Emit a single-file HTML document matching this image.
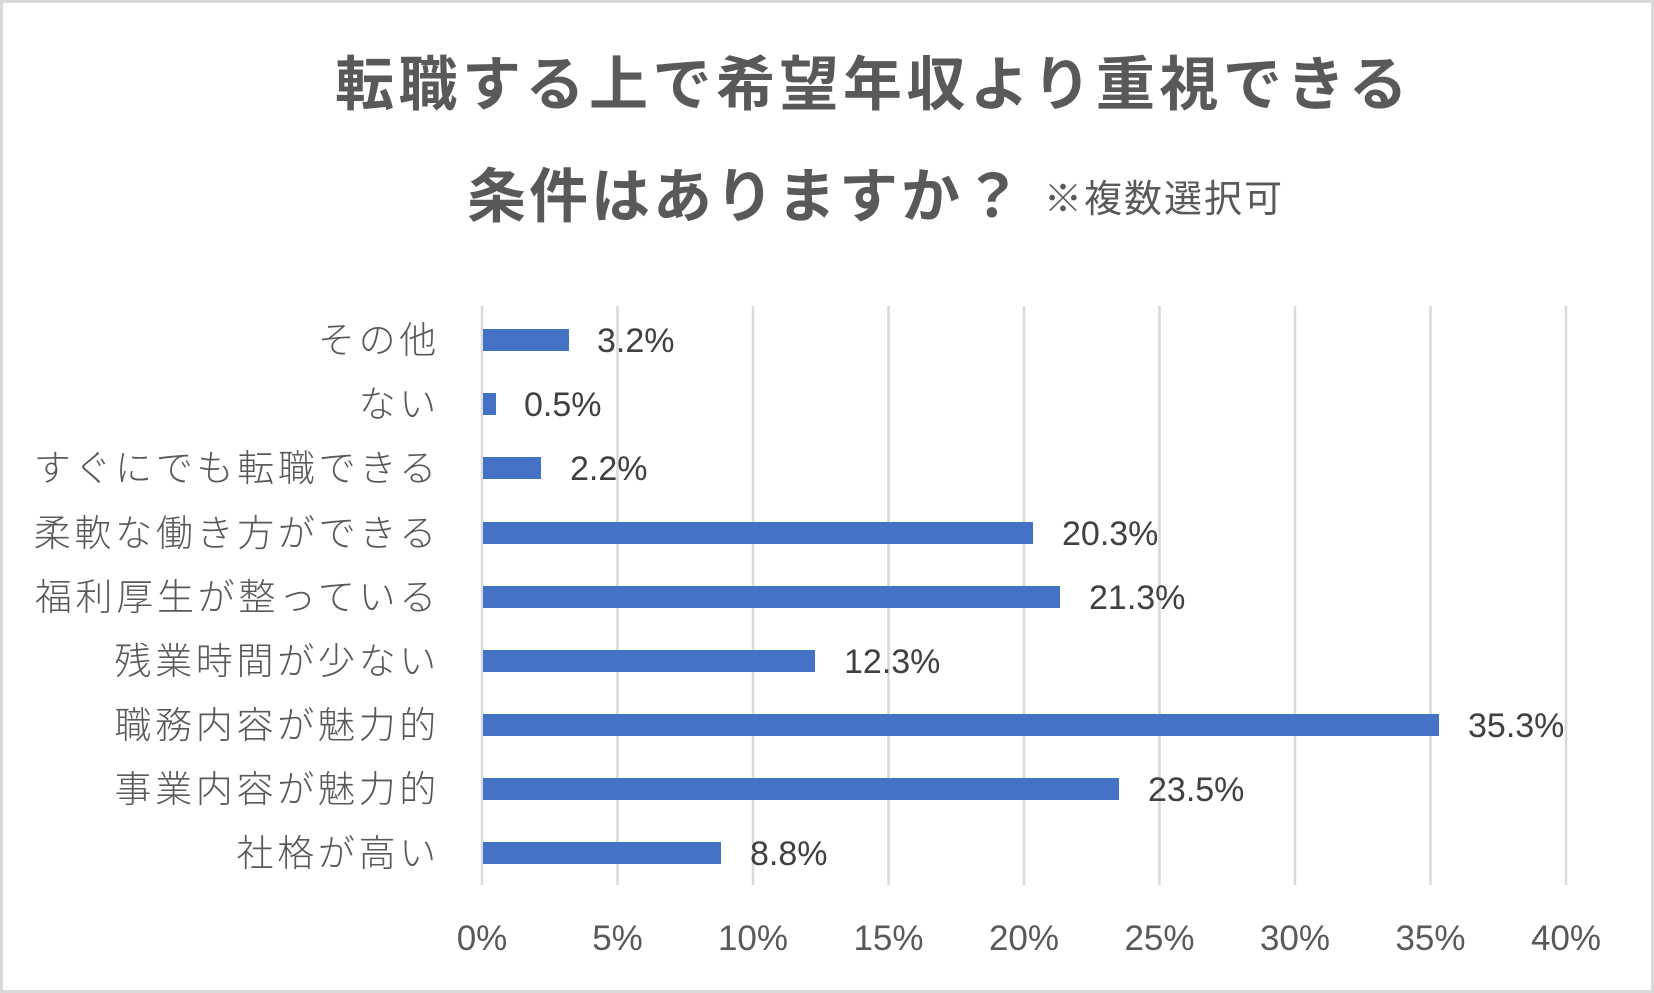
<!DOCTYPE html>
<html><head><meta charset="utf-8"><style>
html,body{margin:0;padding:0;background:#fff;}
svg{display:block;}
</style></head><body>
<svg width="1654" height="993" viewBox="0 0 1654 993" xmlns="http://www.w3.org/2000/svg">
<rect x="1.5" y="1.5" width="1651" height="990" fill="#fff" stroke="#d9d9d9" stroke-width="3"/>
<g font-family="'Liberation Sans','Noto Sans CJK JP',sans-serif" fill="#595959">
<text x="335" y="105" font-size="59" font-weight="bold" letter-spacing="4.5">転職する上で希望年収より重視できる</text>
<text x="467" y="217" font-size="59" font-weight="bold" letter-spacing="3">条件はありますか？</text>
<text x="1044" y="212" font-size="38" letter-spacing="2">※複数選択可</text>
</g>
<g stroke="#d9d9d9" stroke-width="2.5">
<line x1="482" y1="306" x2="482" y2="885"/>
<line x1="617.5" y1="306" x2="617.5" y2="885"/>
<line x1="753" y1="306" x2="753" y2="885"/>
<line x1="888.5" y1="306" x2="888.5" y2="885"/>
<line x1="1024" y1="306" x2="1024" y2="885"/>
<line x1="1159.5" y1="306" x2="1159.5" y2="885"/>
<line x1="1295" y1="306" x2="1295" y2="885"/>
<line x1="1430.5" y1="306" x2="1430.5" y2="885"/>
<line x1="1566" y1="306" x2="1566" y2="885"/>
</g>
<g fill="#4472c4">
<rect x="483" y="329" width="86" height="22"/>
<rect x="483" y="393" width="13" height="22"/>
<rect x="483" y="457" width="58" height="22"/>
<rect x="483" y="522" width="550" height="22"/>
<rect x="483" y="586" width="577" height="22"/>
<rect x="483" y="650" width="332" height="22"/>
<rect x="483" y="714" width="956" height="22"/>
<rect x="483" y="778" width="636" height="22"/>
<rect x="483" y="842" width="238" height="22"/>
</g>
<g font-family="'Liberation Sans',sans-serif" font-size="34" fill="#404040">
<text x="597" y="352">3.2%</text>
<text x="524" y="416">0.5%</text>
<text x="570" y="480">2.2%</text>
<text x="1062" y="545">20.3%</text>
<text x="1089" y="609">21.3%</text>
<text x="844" y="673">12.3%</text>
<text x="1468" y="737">35.3%</text>
<text x="1148" y="801">23.5%</text>
<text x="750" y="865">8.8%</text>
</g>
<g font-family="'Liberation Sans','Noto Sans CJK JP',sans-serif" font-size="37" font-weight="300" fill="#595959" text-anchor="end" letter-spacing="3.7">
<text x="440" y="353">その他</text>
<text x="440" y="417">ない</text>
<text x="440" y="481">すぐにでも転職できる</text>
<text x="440" y="546">柔軟な働き方ができる</text>
<text x="440" y="610">福利厚生が整っている</text>
<text x="440" y="674">残業時間が少ない</text>
<text x="440" y="738">職務内容が魅力的</text>
<text x="440" y="802">事業内容が魅力的</text>
<text x="440" y="866">社格が高い</text>
</g>
<g font-family="'Liberation Sans',sans-serif" font-size="35" fill="#595959" text-anchor="middle">
<text x="482" y="950">0%</text>
<text x="617.5" y="950">5%</text>
<text x="753" y="950">10%</text>
<text x="888.5" y="950">15%</text>
<text x="1024" y="950">20%</text>
<text x="1159.5" y="950">25%</text>
<text x="1295" y="950">30%</text>
<text x="1430.5" y="950">35%</text>
<text x="1566" y="950">40%</text>
</g>
</svg>
</body></html>
